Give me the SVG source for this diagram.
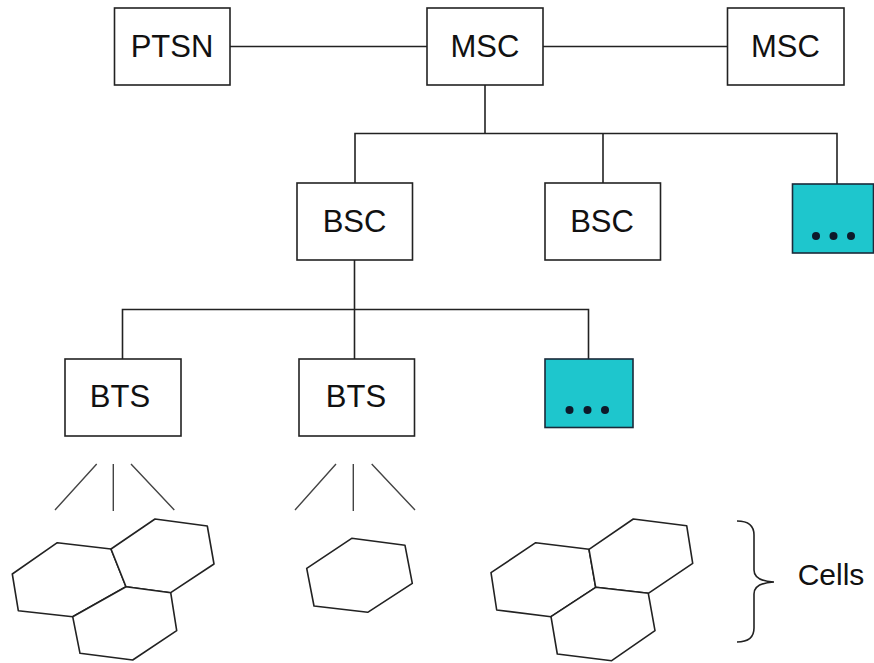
<svg xmlns="http://www.w3.org/2000/svg" width="874" height="663" viewBox="0 0 874 663">
<style>
.box{fill:#fff;stroke:#222;stroke-width:1.6}
.cyan{fill:#1ec6cd;stroke:#1a2a3a;stroke-width:1.6}
.lbl{font-family:"Liberation Sans",Arial,sans-serif;font-size:31px;fill:#111;text-anchor:middle}
.ln{fill:none;stroke:#222;stroke-width:1.6}
.hex{fill:#fff;stroke:#222;stroke-width:1.6;stroke-linejoin:round}
.ant{fill:none;stroke:#444;stroke-width:1.4}
.dot{fill:#0d1a2a}
</style>
<rect width="874" height="663" fill="#fff"/>
<g id="connectors">
<path class="ln" d="M230,46.5H427M543,46.5H727.5"/>
<path class="ln" d="M485,85V133.5M355,183V133.5H837V184M603,133.5V183"/>
<path class="ln" d="M354.5,260V309.5M122.5,359V309.5H588.5V359M354.5,309.5V359"/>
</g>
<g id="ptsn"><rect class="box" x="114.5" y="8" width="115.5" height="77"/><text class="lbl" x="172" y="57">PTSN</text></g>
<g id="msc1"><rect class="box" x="427" y="8" width="116" height="77"/><text class="lbl" x="485" y="57">MSC</text></g>
<g id="msc2"><rect class="box" x="727.5" y="8" width="116.5" height="77"/><text class="lbl" x="785.5" y="57">MSC</text></g>
<g id="bsc1"><rect class="box" x="297" y="183" width="115.5" height="77"/><text class="lbl" x="354.5" y="232">BSC</text></g>
<g id="bsc2"><rect class="box" x="545" y="183" width="115.5" height="77"/><text class="lbl" x="602" y="232">BSC</text></g>
<g id="bsc3"><rect class="cyan" x="792.5" y="184" width="81" height="69"/><circle class="dot" cx="816" cy="236" r="4"/><circle class="dot" cx="833.5" cy="236" r="4"/><circle class="dot" cx="851" cy="236" r="4"/></g>
<g id="bts1"><rect class="box" x="65" y="359" width="116" height="77"/><text class="lbl" x="120" y="407">BTS</text></g>
<g id="bts2"><rect class="box" x="299" y="359" width="115.5" height="77"/><text class="lbl" x="356" y="407">BTS</text></g>
<g id="bts3"><rect class="cyan" x="545" y="359" width="88" height="68.5"/><circle class="dot" cx="569.5" cy="410" r="4"/><circle class="dot" cx="587.5" cy="410" r="4"/><circle class="dot" cx="605" cy="410" r="4"/></g>
<g id="antennas">
<path class="ant" d="M96.7,464L55,510M113.3,464V511M131,464L174.3,510"/>
<path class="ant" d="M336,464L295,510M353.3,464V511M371.7,464L415,510"/>
</g>
<g id="cells1">
<polygon class="hex" points="57.3,542.7 111,549 126,586.7 72.7,616.7 18.3,610.7 12.3,574"/>
<polygon class="hex" points="111,549 155,519 207.3,526 214,564 170.7,592.7 126,586.7"/>
<polygon class="hex" points="72.7,616.7 126,586.7 170.7,592.7 176.7,630.7 132.7,660 80,653.3"/>
</g>
<g id="cells2">
<polygon class="hex" points="351.7,538.3 405,545.3 412.3,583.3 367.7,612.3 314,606 306.7,568.3"/>
</g>
<g id="cells3">
<polygon class="hex" points="535.7,542.7 589,549.3 595.7,587.3 551,616.7 496.7,610 491,572.7"/>
<polygon class="hex" points="589,549.3 633.3,519 686.7,525.7 692.7,563.3 648.3,593.3 595.7,587.3"/>
<polygon class="hex" points="551,616.7 595.7,587.3 648.3,593.3 655,630.7 611.7,660.7 557.3,654"/>
</g>
<g id="cells-label">
<path class="ln" d="M737,521Q754,521 754,535V570Q754,581 774,582Q754,583 754,594V628Q754,642 737,642"/>
<text class="lbl" x="831" y="585" style="font-size:30px">Cells</text>
</g>
</svg>
